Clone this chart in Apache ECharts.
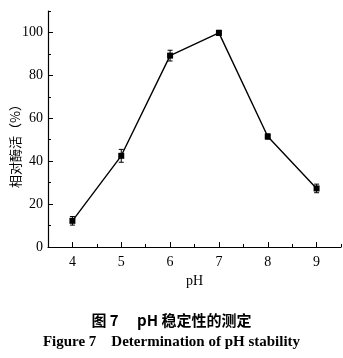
<!DOCTYPE html>
<html>
<head>
<meta charset="utf-8">
<script src="https://cdn.jsdelivr.net/npm/echarts@6/dist/echarts.min.js"></script>
<style>
  html, body { margin: 0; padding: 0; background: #fff; }
  #chart { width: 343px; height: 358px; }
</style>
</head>
<body>
<div id="chart"></div>
<script>
// pH stability of the enzyme: relative activity (%) with error bars
const phValues = [4, 5, 6, 7, 8, 9];
const relativeActivity = [12.2, 42.5, 89.2, 99.8, 51.5, 27.3];
const errorSize = [2.0, 3.0, 2.5, 1.2, 1.2, 2.0];
const xTickLabels = [4, 5, 6, 7, 8, 9];
const xMinorTicks = [3.5, 4.5, 5.5, 6.5, 7.5, 8.5, 9.5];
const yTickLabels = [0, 20, 40, 60, 80, 100];
const yMinorTicks = [10, 30, 50, 70, 90, 110];

const serif = '"Liberation Serif", "DejaVu Serif", serif';
const cjk = '"Noto Sans CJK SC", sans-serif';

const chart = echarts.init(document.getElementById('chart'), null, { renderer: 'canvas' });

const lineData = phValues.map((x, i) => [x, relativeActivity[i]]);
const errData = phValues.map((x, i) => [x, relativeActivity[i] - errorSize[i], relativeActivity[i] + errorSize[i]]);

const axisLine = { show: true, lineStyle: { color: '#000', width: 1.2 } };

chart.setOption({
  animation: false,
  backgroundColor: '#fff',
  grid: { left: 48, right: 2, top: 11, bottom: 111, containLabel: false, outerBoundsMode: 'none' },
  xAxis: [
    {
      type: 'value', min: 3.5, max: 9.5,
      name: 'pH', nameLocation: 'middle', nameGap: 26,
      nameTextStyle: { fontFamily: serif, fontSize: 14, color: '#000' },
      axisLine,
      axisTick: { show: true, inside: true, length: 5, customValues: xTickLabels, lineStyle: { color: '#000', width: 1 } },
      axisLabel: { customValues: xTickLabels, fontFamily: serif, fontSize: 14, color: '#000', margin: 8 },
      splitLine: { show: false }
    },
    {
      type: 'value', min: 3.5, max: 9.5, position: 'bottom',
      axisLine: { show: false },
      axisTick: { show: true, inside: true, length: 3, customValues: xMinorTicks, lineStyle: { color: '#000', width: 1 } },
      axisLabel: { show: false },
      splitLine: { show: false }
    }
  ],
  yAxis: [
    {
      type: 'value', min: 0, max: 110,
      axisLine,
      axisTick: { show: true, inside: true, length: 5, customValues: yTickLabels, lineStyle: { color: '#000', width: 1 } },
      axisLabel: { customValues: yTickLabels, fontFamily: serif, fontSize: 14, color: '#000', margin: 5 },
      splitLine: { show: false }
    },
    {
      type: 'value', min: 0, max: 110, position: 'left',
      axisLine: { show: false },
      axisTick: { show: true, inside: true, length: 3, customValues: yMinorTicks, lineStyle: { color: '#000', width: 1 } },
      axisLabel: { show: false },
      splitLine: { show: false }
    }
  ],
  graphic: [
    {
      type: 'text', x: 15, y: 143, rotation: Math.PI / 2,
      style: {
        text: '相对酶活（%）', fontFamily: cjk, fontSize: 13, fill: '#000',
        align: 'center', verticalAlign: 'middle'
      }
    }
  ],
  title: [
    {
      text: '图 7　 pH 稳定性的测定', left: 'center', top: 308,
      textStyle: { fontFamily: cjk, fontWeight: 'bold', fontSize: 15, color: '#000' }
    },
    {
      text: 'Figure 7　Determination of pH stability', left: 'center', top: 330,
      textStyle: { fontFamily: serif, fontWeight: 'bold', fontSize: 15, color: '#000' }
    }
  ],
  series: [
    {
      type: 'line', data: lineData,
      symbol: 'rect', symbolSize: 6,
      lineStyle: { color: '#000', width: 1.4 },
      itemStyle: { color: '#000' }
    },
    {
      type: 'custom', data: errData,
      renderItem: function (params, api) {
        const x = api.value(0);
        const lo = api.coord([x, api.value(1)]);
        const hi = api.coord([x, api.value(2)]);
        const cap = 2.5;
        const style = { stroke: '#000', lineWidth: 1 };
        return {
          type: 'group',
          children: [
            { type: 'line', shape: { x1: lo[0], y1: lo[1], x2: hi[0], y2: hi[1] }, style },
            { type: 'line', shape: { x1: lo[0] - cap, y1: lo[1], x2: lo[0] + cap, y2: lo[1] }, style },
            { type: 'line', shape: { x1: hi[0] - cap, y1: hi[1], x2: hi[0] + cap, y2: hi[1] }, style }
          ]
        };
      },
      z: 3
    }
  ]
});
</script>
</body>
</html>
